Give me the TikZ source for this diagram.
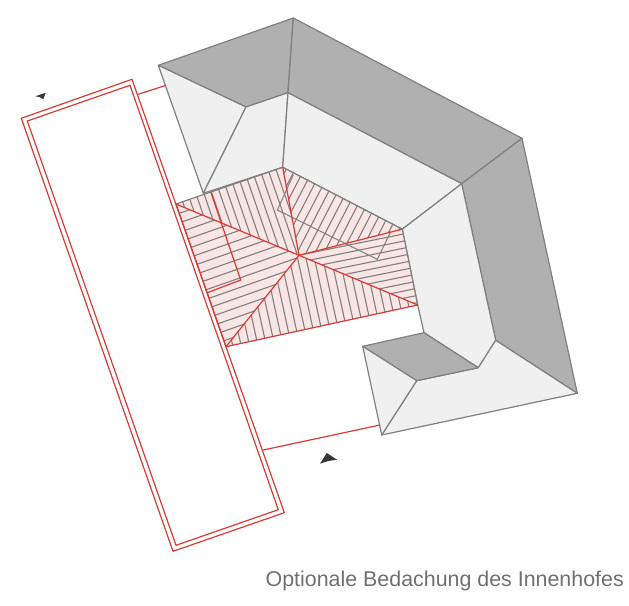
\documentclass[tikz,border=0pt]{standalone}
\usepackage{fontspec}
\setmainfont{Liberation Sans}
\usetikzlibrary{calc}

\definecolor{roofdark}{HTML}{B0B0B0}
\definecolor{rooflight}{HTML}{F0F0F0}
\definecolor{roofline}{HTML}{808080}
\definecolor{redline}{HTML}{D93A36}
\definecolor{redfill}{HTML}{F9E6E5}
\definecolor{captiongray}{HTML}{707070}

\tikzset{
    darkface/.style={fill=roofdark, draw=roofline, line width=1.2pt, line join=round},
    lightface/.style={fill=rooflight, draw=roofline, line width=1.2pt, line join=round},
    hatchline/.style={draw=roofline, line width=1.1pt},
    redstroke/.style={draw=redline, line width=1.2pt, line join=miter},
    sunmark/.style={fill=black!78}
}

% hatch one triangle a, b, c with lines square to the edge a-b
\newcommand{\hatchroof}[5]{
    \begin{scope}
        \clip (#1) -- (#2) -- (#3) -- cycle;
        \coordinate (n) at ($(#1)!300pt!90:(#2)$);
        \foreach \k in {0,...,30} {
            \pgfmathsetmacro{\dist}{#4+\k*#5}
            \coordinate (s) at ($(#1)!\dist pt!(#2)$);
            \draw[hatchline] ($(s)+(n)-(#1)$) -- ($(s)-(n)+(#1)$);
        }
    \end{scope}
}

\begin{document}
\begin{tikzpicture}[x=1pt,y=-1pt]

    \useasboundingbox (0,0) rectangle (629,605);

    % Corners of the roof
    \coordinate (top) at (293.3,18);
    \coordinate (left) at (158.3,65.3);
    \coordinate (in1) at (246,107);
    \coordinate (in2) at (288,92.7);
    \coordinate (corner) at (522,138.3);
    \coordinate (in3) at (461.7,183.7);
    \coordinate (lower) at (577.3,393.3);
    \coordinate (in4) at (495.7,340.3);
    \coordinate (in5) at (478.3,367.7);
    \coordinate (in6) at (424,332.7);
    \coordinate (wing) at (362.7,346.3);
    \coordinate (in7) at (416.7,380.7);
    \coordinate (tip) at (381.7,435);
    \coordinate (valley) at (203.3,193.3);

    % Corners of the courtyard
    \coordinate (ctop) at (282.7,167.3);
    \coordinate (cleft) at (176,204);
    \coordinate (cmid) at (299,255.3);
    \coordinate (cright) at (402.3,229.2);
    \coordinate (clow) at (417.7,305);
    \coordinate (cbot) at (226,346.7);

    % Roof faces
    \draw[darkface] (top) -- (left) -- (in1) -- (in2) -- cycle;
    \draw[darkface] (top) -- (corner) -- (in3) -- (in2) -- cycle;
    \draw[darkface] (corner) -- (lower) -- (in4) -- (in3) -- cycle;
    \draw[lightface] (left) -- (in1) -- (valley) -- cycle;
    \draw[lightface] (in1) -- (in2) -- (ctop) -- (valley) -- cycle;
    \draw[lightface] (in2) -- (in3) -- (cright) -- (ctop) -- cycle;
    \draw[lightface] (in3) -- (in4) -- (in5) -- (in6) -- (clow) -- (cright) -- cycle;
    \draw[lightface] (in4) -- (lower) -- (tip) -- (in7) -- (in5) -- cycle;
    \draw[darkface] (in6) -- (in5) -- (in7) -- (wing) -- cycle;
    \draw[lightface] (wing) -- (in7) -- (tip) -- cycle;

    % Courtyard roof with its hatching
    \fill[redfill] (ctop) -- (cright) -- (clow) -- (cbot) -- (cleft) -- cycle;
    \hatchroof{ctop}{cleft}{cmid}{7}{7.6}
    \hatchroof{ctop}{cright}{cmid}{4}{8}
    \hatchroof{cright}{clow}{cmid}{4.9}{7}
    \hatchroof{clow}{cbot}{cmid}{9}{8.2}
    \hatchroof{cbot}{cleft}{cmid}{6.3}{9}
    \draw[roofline, line width=1.2pt] (cleft) -- (ctop) -- (cright) -- (clow);

    % Grey outline under the courtyard roof
    \coordinate (g1) at (293.3,175);
    \coordinate (g2) at (277.3,210);
    \coordinate (g3) at (377.3,259.3);
    \coordinate (g4) at (390.7,231.7);
    \draw[roofline, line width=1pt] (g1) -- (g2) -- (g3) -- (g4);

    % Red ridges and edges
    \draw[redstroke] (ctop) -- (cmid) -- (cright);
    \draw[redstroke] (cleft) -- (cmid) -- (clow);
    \draw[redstroke] (cmid) -- (cbot);
    \draw[redstroke] (clow) -- (cbot) -- (cleft);
    \coordinate (r1) at (211,192.7);
    \coordinate (r2) at (240.7,280);
    \coordinate (r3) at (207.3,292.7);
    \draw[redstroke] (r1) -- (r2) -- (r3);

    % Long building as a double outline
    \coordinate (a1) at (21.3,118.3);
    \coordinate (a2) at (132,79.3);
    \coordinate (a3) at (284.3,512.7);
    \coordinate (a4) at (173,551.3);
    \coordinate (b1) at (27.3,121);
    \coordinate (b2) at (130,85.3);
    \coordinate (b3) at (278.3,509.7);
    \coordinate (b4) at (176,545.3);
    \draw[redstroke] (a1) -- (a2) -- (a3) -- (a4) -- cycle;
    \draw[redstroke] (b1) -- (b2) -- (b3) -- (b4) -- cycle;

    % Links to the main roof
    \coordinate (l1) at (138.3,94.3);
    \coordinate (l2) at (166,85.3);
    \coordinate (l3) at (263.3,450);
    \coordinate (l4) at (380,425);
    \draw[redstroke] (l1) -- (l2);
    \draw[redstroke] (l3) -- (l4);

    % View markers
    \fill[sunmark] (35.3,96.3) -- (45.7,92.7) -- (43.3,99.3) -- (39.5,97) -- cycle;
    \fill[sunmark] (320,463.7) -- (326.7,453) -- (337,459.7) -- (328.3,461) -- cycle;

    % Caption
    \node[anchor=base east, inner sep=0pt, text=captiongray, font=\fontsize{21.4}{25}\selectfont] (caption) at (624,586) {Optionale Bedachung des Innenhofes};

\end{tikzpicture}
\end{document}
